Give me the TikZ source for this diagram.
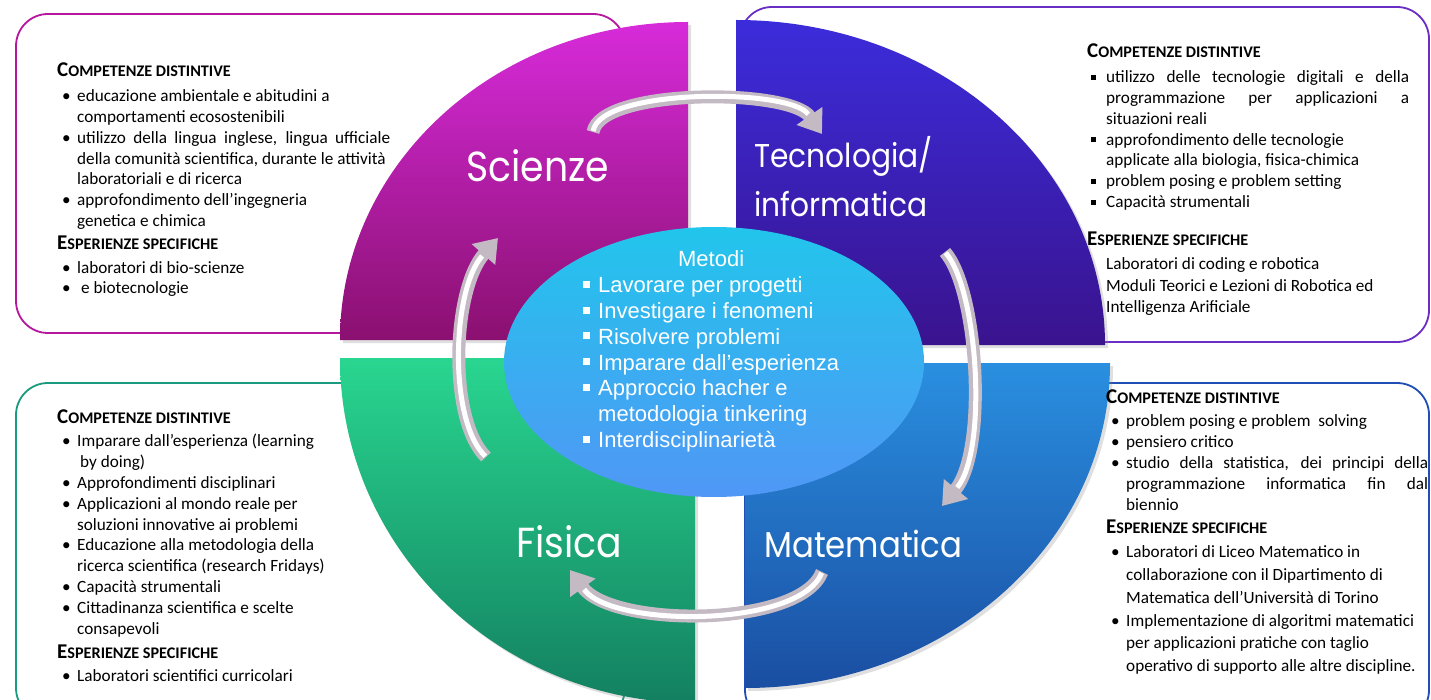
\documentclass[tikz,border=0pt]{standalone}
\usepackage{fontspec}
\setmainfont{Carlito}
\newfontfamily\metfont{Liberation Sans}
\newfontfamily\quadfont{Poppins}[FakeStretch=0.9]
\usetikzlibrary{arrows.meta,shadows}

\definecolor{sciTop}{HTML}{D72BDA}
\definecolor{sciBot}{HTML}{8A1070}
\definecolor{tecTop}{HTML}{3B2CDB}
\definecolor{tecBot}{HTML}{3A138E}
\definecolor{fisTop}{HTML}{29D690}
\definecolor{fisBot}{HTML}{138060}
\definecolor{matTop}{HTML}{2A8FE0}
\definecolor{matBot}{HTML}{1A4EA2}
\definecolor{sciLine}{HTML}{B5179E}
\definecolor{tecLine}{HTML}{6A2EC5}
\definecolor{fisLine}{HTML}{1A9A7E}
\definecolor{matLine}{HTML}{1F4FB5}
\definecolor{metTop}{HTML}{22C5EC}
\definecolor{metMid}{HTML}{2FB3EE}
\definecolor{metBot}{HTML}{5097F5}
\definecolor{arrGray}{HTML}{C4BAC4}

% headings in small caps, bullets and indents
\newcommand\hdr[2]{\textbf{{\fontsize{21}{20}\selectfont #1}{\fontsize{16.2}{20}\selectfont #2}}}
\newcommand\bl{\hspace*{5pt}\makebox[15pt][l]{\textbullet}}
\newcommand\cn{\hspace*{20pt}}
\newcommand\sq{\hspace*{4pt}\makebox[15pt][l]{\raisebox{3pt}{\rule{5pt}{5pt}}}}
\newcommand\sn{\hspace*{19pt}}
\newcommand\wsq{\makebox[15pt][l]{\raisebox{5pt}{\rule{7pt}{7pt}}}}
\newcommand\cycarrow[4]{
    \draw[cyc] (#1) .. controls #2 and #3 .. (#4);
    \draw[shine] (#1) .. controls #2 and #3 .. (#4);
}

\begin{document}
\begin{tikzpicture}[x=1pt, y=-1pt,
    card/.style={draw=#1, line width=1.8pt, fill=white, rounded corners=32pt},
    quad/.style={drop shadow={opacity=0.25, shadow xshift=3pt, shadow yshift=-3pt}},
    subj/.style={text=white, inner sep=0pt, anchor=base west},
    info/.style={anchor=base west, inner sep=0pt, font=\fontsize{17.2}{20.8}\selectfont},
    cyc/.style={line width=13pt, draw=arrGray, -{Triangle[length=22pt,width=30pt]}},
    shine/.style={line width=5pt, draw=white, shorten >=24pt, shorten <=1pt}]
    \useasboundingbox (0,0) rectangle (1431,700);
    \clip (0,0) rectangle (1431,700);

    % cards behind the circle
    \draw[card=sciLine] (16,14) rectangle (625,333);
    \draw[card=tecLine] (740,7) rectangle (1429,342);
    \draw[card=fisLine] (16,383) rectangle (625,720);
    \draw[card=matLine] (745,383) rectangle (1429,722);

    % the four quarters
    \path[quad, top color=sciTop, bottom color=sciBot] (688,340) -- (688,22)
        arc[start angle=90, end angle=180, x radius=348pt, y radius=318pt] -- cycle;
    \path[quad, top color=tecTop, bottom color=tecBot] (736,345) -- (1105,345)
        arc[start angle=0, end angle=90, x radius=369pt, y radius=325pt] -- cycle;
    \path[quad, top color=fisTop, bottom color=fisBot] (695,358) -- (340,358)
        arc[start angle=180, end angle=270, x radius=355pt, y radius=345pt] -- cycle;
    \path[quad, top color=matTop, bottom color=matBot] (745,363) -- (745,688)
        arc[start angle=270, end angle=360, x radius=365pt, y radius=325pt] -- cycle;

    \node[subj, font=\quadfont\fontsize{42}{48}\selectfont] (sci) at (466,182) {Scienze};
    \node[subj, font=\quadfont\fontsize{33}{49}\selectfont, align=left] (tec) at (754,217) {Tecnologia/\\informatica};
    \node[subj, font=\quadfont\fontsize{42}{48}\selectfont] (fis) at (516,557) {Fisica};
    \node[subj, font=\quadfont\fontsize{36}{48}\selectfont] (mat) at (764,557) {Matematica};

    % methods in the middle
    \shade[top color=metTop, middle color=metMid, bottom color=metBot]
        (714,362) ellipse [x radius=210pt, y radius=135pt];
    \node[anchor=base west, inner sep=0pt, text=white, font=\metfont\fontsize{22}{25.8}\selectfont]
        (met) at (583,267) {\begin{tabular}[t]{@{}l@{}}
        \multicolumn{1}{@{}c@{}}{Metodi}\\
        \wsq Lavorare per progetti\\
        \wsq Investigare i fenomeni\\
        \wsq Risolvere problemi\\
        \wsq Imparare dall’esperienza\\
        \wsq Approccio hacher e\\
        \hspace*{15pt}metodologia tinkering\\
        \wsq Interdisciplinarietà
        \end{tabular}};

    % cycle of arrows
    \coordinate (topTail) at (593,132);
    \coordinate (topHead) at (822,134);
    \coordinate (rgtTail) at (945,252);
    \coordinate (rgtHead) at (942,506);
    \coordinate (botTail) at (822,572);
    \coordinate (botHead) at (570,570);
    \coordinate (lftTail) at (486,457);
    \coordinate (lftHead) at (498,238);
    \cycarrow{topTail}{(600,88)}{(790,88)}{topHead}
    \cycarrow{rgtTail}{(978,290)}{(988,450)}{rgtHead}
    \cycarrow{botTail}{(800,628)}{(612,628)}{botHead}
    \cycarrow{lftTail}{(448,420)}{(452,290)}{lftHead}

    % texts of the cards
    \node[info] (sciTxt) at (57,77) {\begin{tabular}[t]{@{}l@{}}
        \hdr{C}{OMPETENZE DISTINTIVE}\\[4pt]
        \bl educazione ambientale e abitudini a\\
        \cn comportamenti ecosostenibili\\
        \bl\makebox[313pt][s]{utilizzo della lingua inglese, lingua ufficiale}\\
        \cn della comunità scientifica, durante le attività\\
        \cn laboratoriali e di ricerca\\
        \bl approfondimento dell’ingegneria\\
        \cn genetica e chimica\\[2pt]
        \hdr{E}{SPERIENZE SPECIFICHE}\\[3pt]
        \bl laboratori di bio-scienze\\
        \bl\hspace*{4pt}e biotecnologie
        \end{tabular}};
    \node[info] (tecTxt) at (1087,58) {\begin{tabular}[t]{@{}l@{}}
        \hdr{C}{OMPETENZE DISTINTIVE}\\[4pt]
        \sq\makebox[303pt][s]{utilizzo delle tecnologie digitali e della}\\
        \sn\makebox[303pt][s]{programmazione per applicazioni a}\\
        \sn situazioni reali\\
        \sq approfondimento delle tecnologie\\
        \sn applicate alla biologia, fisica-chimica\\
        \sq problem posing e problem setting\\
        \sq Capacità strumentali\\[17pt]
        \hdr{E}{SPERIENZE SPECIFICHE}\\[3pt]
        \sn Laboratori di coding e robotica\\[2pt]
        \sn Moduli Teorici e Lezioni di Robotica ed\\
        \sn Intelligenza Arificiale
        \end{tabular}};
    \node[info] (fisTxt) at (57,423) {\begin{tabular}[t]{@{}l@{}}
        \hdr{C}{OMPETENZE DISTINTIVE}\\[3pt]
        \bl Imparare dall’esperienza (learning\\
        \cn\hspace*{3pt}by doing)\\
        \bl Approfondimenti disciplinari\\
        \bl Applicazioni al mondo reale per\\
        \cn soluzioni innovative ai problemi\\
        \bl Educazione alla metodologia della\\
        \cn ricerca scientifica (research Fridays)\\
        \bl Capacità strumentali\\
        \bl Cittadinanza scientifica e scelte\\
        \cn consapevoli\\[4pt]
        \hdr{E}{SPERIENZE SPECIFICHE}\\[2pt]
        \bl Laboratori scientifici curricolari
        \end{tabular}};
    \node[info] (matTxt) at (1106,403) {\begin{tabular}[t]{@{}l@{}}
        \hdr{C}{OMPETENZE DISTINTIVE}\\[3pt]
        \bl problem posing e problem\ \ solving\\
        \bl pensiero critico\\
        \bl\makebox[302pt][s]{studio della statistica, dei principi della}\\
        \cn\makebox[302pt][s]{programmazione informatica fin dal}\\
        \cn biennio\\[3pt]
        \hdr{E}{SPERIENZE SPECIFICHE}\\[3pt]
        \bl Laboratori di Liceo Matematico in\\[2pt]
        \cn collaborazione con il Dipartimento di\\[2pt]
        \cn Matematica dell’Università di Torino\\[2pt]
        \bl Implementazione di algoritmi matematici\\[2pt]
        \cn per applicazioni pratiche con taglio\\[2pt]
        \cn operativo di supporto alle altre discipline.
        \end{tabular}};
\end{tikzpicture}
\end{document}
